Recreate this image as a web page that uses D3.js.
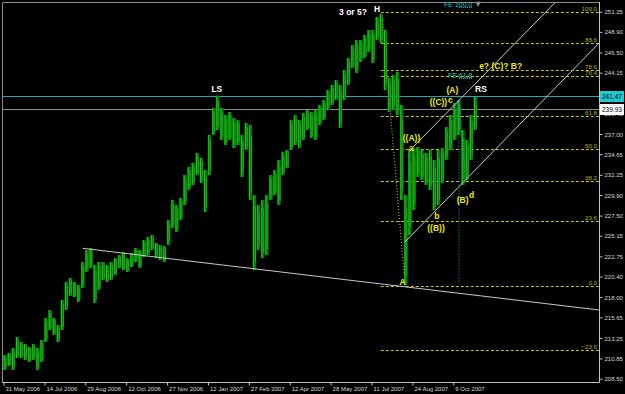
<!DOCTYPE html>
<html>
<head>
<meta charset="utf-8">
<script src="https://cdn.jsdelivr.net/npm/d3@7"></script>
<style>
  body { margin: 0; background: #000; }
  svg { display: block; }
  .axis text { font-family: "Liberation Sans", Arial, sans-serif; font-size: 6px; fill: #d8d8d8; }
  .axis line { stroke: #c0c0c0; }
  .wave { font-family: "Liberation Sans", Arial, sans-serif; font-size: 8.5px; font-weight: bold; }
  .fib { font-family: "Liberation Sans", Arial, sans-serif; font-size: 6.2px; }
</style>
</head>
<body>
<div id="chart_area"></div>
<script>
// bottom axis labels (bar index where each label sits)
var dateLabels = ["31 May 2006", "14 Jul 2006", "29 Aug 2006", "12 Oct 2006", "27 Nov 2006", "12 Jan 2007",
    "27 Feb 2007", "12 Apr 2007", "28 May 2007", "11 Jul 2007", "24 Aug 2007", "9 Oct 2007"];
var dateBars = [0, 10, 20, 30, 40, 50, 60, 70, 80, 90, 100, 110];

// right axis labels
var priceLabels = ["251.25", "248.90", "246.50", "244.15", "241.75", "239.40", "237.00", "234.65", "232.25", "229.90",
    "227.50", "225.15", "222.75", "220.40", "218.00", "215.65", "213.25", "210.85", "208.50"];

// bar highs / lows (each bar ~ 3 sessions)
var highs = [211.26, 211.50, 212.08, 213.36, 212.78, 212.54, 212.19, 212.54, 212.08, 213.01,
    215.57, 216.50, 215.57, 214.75, 217.67, 219.77, 220.23, 219.77, 219.42, 222.09,
    223.49, 223.73, 221.74, 222.09, 222.09, 221.74, 222.09, 222.56, 222.91, 223.26,
    222.56, 223.14, 223.73, 223.49, 224.66, 225.01, 225.24, 224.31, 224.08, 223.96,
    226.99, 229.32, 228.73, 229.55, 232.23, 233.16, 233.63, 234.79, 234.21, 232.81,
    236.89, 240.04, 241.47, 240.04, 239.22, 239.57, 238.87, 238.64, 236.89, 238.29,
    238.05, 229.90, 228.73, 229.32, 229.90, 232.23, 232.81, 233.98, 234.91, 235.14,
    238.64, 239.22, 238.64, 239.45, 239.80, 239.57, 239.80, 240.39, 240.96, 242.13,
    242.71, 243.29, 242.71, 244.46, 245.86, 247.37, 247.95, 247.95, 248.54, 249.12,
    249.12, 250.63, 250.98, 249.12, 243.53, 243.88, 244.22, 240.39, 229.90, 235.14,
    235.38, 235.49, 235.14, 234.79, 235.14, 233.98, 235.14, 235.38, 237.82, 239.22,
    240.62, 240.96, 237.47, 236.31, 239.22, 241.31];
var lows = [209.52, 209.98, 209.52, 210.91, 210.91, 210.68, 210.45, 210.68, 209.52, 210.45,
    212.78, 214.17, 213.59, 212.78, 214.17, 216.50, 218.14, 218.02, 217.44, 219.07,
    220.93, 221.40, 217.32, 218.84, 220.00, 219.77, 220.00, 220.58, 221.40, 221.16,
    220.93, 221.51, 222.09, 221.40, 222.68, 222.91, 223.49, 222.56, 222.33, 222.09,
    224.08, 226.06, 225.59, 226.99, 228.73, 230.48, 231.07, 232.23, 231.30, 227.92,
    232.23, 236.89, 237.47, 236.31, 235.72, 236.31, 235.38, 235.72, 232.00, 235.14,
    229.32, 221.16, 223.49, 222.56, 222.91, 229.32, 229.90, 228.73, 232.23, 233.04,
    235.14, 235.72, 235.38, 236.31, 237.47, 236.54, 236.31, 238.05, 238.64, 239.80,
    240.39, 240.96, 237.70, 240.96, 242.71, 244.69, 244.11, 245.39, 245.86, 246.56,
    245.27, 247.95, 247.60, 242.13, 239.57, 239.80, 239.22, 229.32, 219.42, 225.24,
    228.15, 232.00, 231.65, 231.07, 230.48, 228.15, 228.73, 231.30, 233.98, 235.14,
    236.31, 236.89, 231.07, 231.65, 233.98, 237.47];

var bidPrice = 239.93;
var shoulderLevel = 241.47;

// fibonacci retracement H -> A
var fibHigh = 251.25, fibLow = 219.35, fibStartBar = 92.4;
var fibRatios = [100.0, 88.6, 78.6, 76.4, 61.8, 50.0, 38.2, 23.6, 0.0, -23.6];
var fibTrend = [[92.7, 251.25], [98.3, 219.35]];

// fibonacci expansion
var feLevels = [["FE 100.0", 251.76], ["FE 61.8", 243.53]];
var feBars = [111.5, 114.8];
var feTrend = [[111.5, 219.83], [111.5, 240.97], [113.2, 231.30]];

// trend lines [bar, price]
var neckline = [[19.5, 223.69], [145.8, 216.50]];
var channelLow = [[98.3, 224.42], [145.8, 247.61]];
var channelHigh = [[100.3, 235.49], [135.2, 252.40]];

// wave labels [text, bar, price]
var whiteLabels = [["3 or 5?", 85.6, 250.92], ["H", 91.5, 251.27], ["LS", 52.3, 241.84], ["RS", 116.9, 241.84]];
var yellowLabels = [["A", 97.7, 219.36], ["((A))", 99.9, 236.24], ["a", 99.8, 235.08], ["((C))", 106.5, 240.38],
    ["c", 109.4, 240.62], ["(A)", 109.9, 241.73], ["b", 106.1, 227.05], ["((B))", 105.9, 225.70],
    ["(B)", 112.4, 228.91], ["d", 114.6, 229.55], ["e? (C)? B?", 121.7, 244.52]];

var width = 625, height = 394;
var plot = { left: 2, top: 2, right: 599, bottom: 382 };

var x = d3.scaleLinear().domain([0, 146]).range([3, 600]);
var y = d3.scaleLinear().domain([208.5, 251.25]).range([378.7, 11.7]);

var svg = d3.select("#chart_area")
    .append("svg")
    .attr("width", width)
    .attr("height", height);

svg.append("rect").attr("width", width).attr("height", height).attr("fill", "#000");

svg.append("defs").append("clipPath").attr("id", "plotclip")
    .append("rect")
    .attr("x", plot.left + 1).attr("y", plot.top + 1)
    .attr("width", plot.right - plot.left - 1).attr("height", plot.bottom - plot.top - 1);

var g = svg.append("g").attr("clip-path", "url(#plotclip)");

var line = d3.line()
    .x(function (d) { return x(d[0]); })
    .y(function (d) { return y(d[1]); });

// fib retracement levels
var fibRange = fibHigh - fibLow;
fibRatios.forEach(function (r) {
    var p = fibLow + fibRange * r / 100;
    var yy = Math.round(y(p)) + 0.5;
    g.append("line")
        .attr("x1", x(fibStartBar)).attr("x2", plot.right)
        .attr("y1", yy).attr("y2", yy)
        .attr("stroke", "#c8c800")
        .attr("stroke-dasharray", "3,2");
    g.append("text")
        .attr("class", "fib")
        .attr("x", plot.right - 2)
        .attr("y", yy - 1.5)
        .attr("text-anchor", "end")
        .attr("fill", "#b4b400")
        .text(d3.format(".1f")(r));
});

g.append("path")
    .datum(fibTrend)
    .attr("d", line)
    .attr("fill", "none")
    .attr("stroke", "#c8c800")
    .attr("stroke-dasharray", "1,2");

// horizontal lines
g.append("line")
    .attr("x1", plot.left).attr("x2", plot.right)
    .attr("y1", Math.round(y(shoulderLevel)) + 0.5).attr("y2", Math.round(y(shoulderLevel)) + 0.5)
    .attr("stroke", "#22a8b0");
g.append("line")
    .attr("x1", plot.left).attr("x2", plot.right)
    .attr("y1", Math.round(y(bidPrice)) + 0.5).attr("y2", Math.round(y(bidPrice)) + 0.5)
    .attr("stroke", "#8c8c8c");

// bars
var step = x(1) - x(0);
g.selectAll(".bar")
    .data(highs)
    .enter().append("rect")
    .attr("class", "bar")
    .attr("x", function (d, i) { return x(i) + 0.3; })
    .attr("width", step - 0.6)
    .attr("y", function (d) { return y(d); })
    .attr("height", function (d, i) { return y(lows[i]) - y(d); })
    .attr("fill", "#077807");
g.selectAll(".wick")
    .data(highs)
    .enter().append("line")
    .attr("class", "wick")
    .attr("x1", function (d, i) { return x(i) + step * 0.3; })
    .attr("x2", function (d, i) { return x(i) + step * 0.3; })
    .attr("y1", function (d) { return y(d); })
    .attr("y2", function (d, i) { return y(lows[i]); })
    .attr("stroke", "#18cc18")
    .attr("stroke-width", 1);
g.selectAll(".wick2")
    .data(highs)
    .enter().append("line")
    .attr("class", "wick2")
    .attr("x1", function (d, i) { return x(i) + step * 0.75; })
    .attr("x2", function (d, i) { return x(i) + step * 0.75; })
    .attr("y1", function (d, i) { return y(d) + (y(lows[i]) - y(d)) * 0.15; })
    .attr("y2", function (d, i) { return y(lows[i]) - (y(lows[i]) - y(d)) * 0.1; })
    .attr("stroke", "#14b014")
    .attr("stroke-width", 1);

// trend lines
[neckline, channelLow, channelHigh].forEach(function (t) {
    g.append("path")
        .datum(t)
        .attr("d", line)
        .attr("fill", "none")
        .attr("stroke", "#c8c8c8")
        .attr("stroke-width", 1);
});

// fib expansion
g.append("path")
    .datum(feTrend)
    .attr("d", line)
    .attr("fill", "none")
    .attr("stroke", "#18b8c8")
    .attr("stroke-dasharray", "1,2");

// wave labels
g.selectAll(".wl")
    .data(whiteLabels)
    .enter().append("text")
    .attr("class", "wave")
    .attr("x", function (d) { return x(d[1]); })
    .attr("y", function (d) { return y(d[2]); })
    .attr("text-anchor", "middle")
    .attr("fill", "#ffffff")
    .text(function (d) { return d[0]; });
g.selectAll(".yl")
    .data(yellowLabels)
    .enter().append("text")
    .attr("class", "wave")
    .attr("x", function (d) { return x(d[1]); })
    .attr("y", function (d) { return y(d[2]); })
    .attr("text-anchor", "middle")
    .attr("fill", "#ecec10")
    .text(function (d) { return d[0]; });

// chart shift marker
svg.append("path")
    .attr("d", d3.symbol().type(d3.symbolTriangle).size(14))
    .attr("transform", "translate(" + x(116.2) + ",3.5) rotate(180)")
    .attr("fill", "#909090");

// frame
svg.append("path")
    .attr("d", "M" + (plot.left + 0.5) + "," + plot.bottom + "V" + (plot.top + 0.5) + "H" + plot.right)
    .attr("fill", "none")
    .attr("stroke", "#8a8a8a");

// fib expansion levels (drawn over the frame)
feLevels.forEach(function (f) {
    var yy = Math.round(y(f[1])) + 0.5;
    svg.append("line")
        .attr("x1", x(feBars[0])).attr("x2", x(feBars[1]))
        .attr("y1", yy).attr("y2", yy)
        .attr("stroke", "#18b8c8")
        .attr("stroke-dasharray", "1,1");
    svg.append("text")
        .attr("class", "wave")
        .style("font-size", "7px")
        .style("font-weight", "normal")
        .attr("x", x(feBars[1]))
        .attr("y", yy - 0.5)
        .attr("text-anchor", "end")
        .attr("fill", "#26c8d8")
        .text(f[0]);
});

// axes
var yAxis = d3.axisRight(y)
    .tickValues(priceLabels.map(function (d) { return +d; }))
    .tickFormat(function (d, i) { return priceLabels[i]; })
    .tickSize(3)
    .tickSizeOuter(0)
    .tickPadding(2);
var ya = svg.append("g")
    .attr("class", "axis")
    .attr("transform", "translate(" + (plot.right + 0.5) + ",0)")
    .call(yAxis);
ya.select(".domain").remove();
ya.selectAll("text").attr("dy", "0.35em");

var xAxis = d3.axisBottom(x)
    .tickValues(dateBars)
    .tickFormat(function (d, i) { return dateLabels[i]; })
    .tickSize(3)
    .tickSizeOuter(0)
    .tickPadding(1);
var xa = svg.append("g")
    .attr("class", "axis")
    .attr("transform", "translate(0," + (plot.bottom + 0.5) + ")")
    .call(xAxis);
xa.select(".domain").remove();
xa.selectAll(".tick line").attr("transform", "translate(0.5,0)");
xa.selectAll("text").attr("text-anchor", "start").attr("dx", 2).attr("dy", "0.7em");

svg.append("path")
    .attr("d", "M" + (plot.left) + "," + (plot.bottom + 0.5) + "H" + (plot.right + 0.5) + "V" + plot.top)
    .attr("fill", "none")
    .attr("stroke", "#c4c4c4");

// price boxes
[[shoulderLevel, "#22c8d0"], [bidPrice, "#ffffff"]].forEach(function (b) {
    var yy = Math.round(y(b[0]));
    svg.append("rect")
        .attr("x", plot.right + 1).attr("y", yy - 5)
        .attr("width", 24).attr("height", 11)
        .attr("fill", b[1]);
    svg.append("text")
        .attr("class", "fib")
        .style("font-size", "6.5px")
        .attr("x", plot.right + 3).attr("y", yy + 2.5)
        .attr("fill", "#000")
        .text(d3.format(".2f")(b[0]));
});
</script>
</body>
</html>
